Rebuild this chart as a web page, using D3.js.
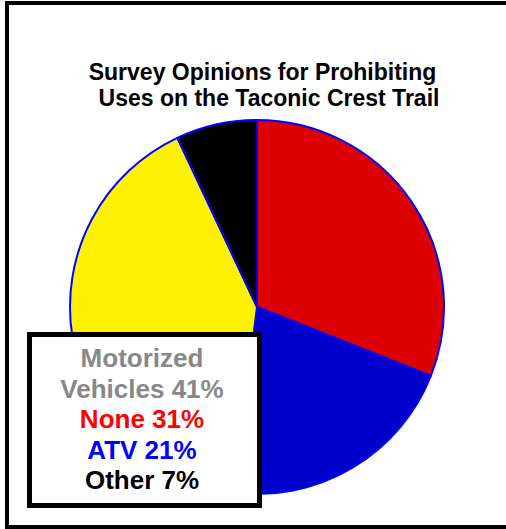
<!DOCTYPE html>
<html>
<head>
<meta charset="utf-8">
<script src="https://cdn.jsdelivr.net/npm/d3@7"></script>
<style>
  html, body { margin: 0; padding: 0; background: #fff; overflow: hidden; }
  svg { display: block; }
</style>
</head>
<body>
<script>
// Survey responses: share of respondents favouring each prohibition
const categories = ["None", "ATV", "Motorized Vehicles", "Other"];
const percents = [31, 21, 41, 7];
const sliceColors = ["#dd0000", "#0000cc", "#fff200", "#000000"];

const titleLines = ["Survey Opinions for Prohibiting", "Uses on the Taconic Crest Trail"];

// Legend lines (text, colour); the first category wraps over two lines
const legendLines = [
  { text: "Motorized", color: "#888888" },
  { text: "Vehicles " + percents[2] + "%", color: "#888888" },
  { text: categories[0] + " " + percents[0] + "%", color: "#ff0000" },
  { text: categories[1] + " " + percents[1] + "%", color: "#0000ff" },
  { text: categories[3] + " " + percents[3] + "%", color: "#000000" }
];

const W = 506, H = 529;
const svg = d3.select("body").append("svg")
  .attr("width", W).attr("height", H);

svg.append("rect").attr("width", W).attr("height", H).attr("fill", "#fff");

// Outer frame: left, top and bottom edges
svg.append("path")
  .attr("d", `M${W},3 H7 V527 H${W}`)
  .attr("fill", "none").attr("stroke", "#000").attr("stroke-width", 4);

// Title
svg.append("g").selectAll("text").data(titleLines).join("text")
  .attr("x", (d, i) => i === 0 ? 262.5 : 269)
  .attr("y", (d, i) => 80 + i * 26)
  .attr("text-anchor", "middle")
  .attr("font-family", "'Liberation Sans', Arial, sans-serif")
  .attr("font-weight", "bold")
  .attr("font-size", 23)
  .attr("fill", "#000")
  .text(d => d);

// Pie, clockwise from 12 o'clock
const cx = 257, cy = 307, r = 187;
const pie = d3.pie().sort(null).value(d => d)
  .startAngle(0).endAngle(2 * Math.PI);
const arc = d3.arc().innerRadius(0).outerRadius(r);

svg.append("g")
  .attr("transform", `translate(${cx},${cy})`)
  .selectAll("path")
  .data(pie(percents))
  .join("path")
  .attr("d", arc)
  .attr("fill", (d, i) => sliceColors[i])
  .attr("stroke", "#0000ff")
  .attr("stroke-width", 2)
  .attr("stroke-linejoin", "round");

// Legend box
const legend = svg.append("g");
legend.append("rect")
  .attr("x", 29.5).attr("y", 334.5)
  .attr("width", 230).attr("height", 171)
  .attr("fill", "#fff").attr("stroke", "#000").attr("stroke-width", 5);

const lineY = d3.scaleLinear().domain([0, 4]).range([367, 489]);
legend.selectAll("text").data(legendLines).join("text")
  .attr("x", 142)
  .attr("y", (d, i) => lineY(i))
  .attr("text-anchor", "middle")
  .attr("font-family", "'Liberation Sans', Arial, sans-serif")
  .attr("font-weight", "bold")
  .attr("font-size", 26)
  .attr("fill", d => d.color)
  .text(d => d.text);
</script>
</body>
</html>
